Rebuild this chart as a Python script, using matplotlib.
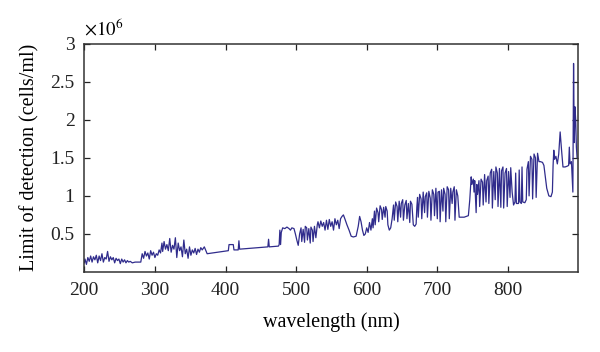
import matplotlib.pyplot as plt
from matplotlib.ticker import FormatStrFormatter

# wavelength (nm) and limit of detection (x10^6 cells/ml)
wavelength = [
    200, 201, 203, 205, 207, 209, 211, 213, 215, 217, 219, 221, 223, 225, 227, 229,
    231, 233, 235, 237, 239, 241, 243, 245, 247, 249, 251, 253, 255, 257, 259, 261,
    263, 265, 268, 272, 280,
    282, 284, 286, 288, 290, 292, 294, 296, 298, 300, 302, 304, 306, 308, 310, 311,
    313, 315, 317, 319, 321, 323, 325, 327, 329, 331, 333, 335, 337, 339, 341, 343,
    345, 347, 349, 351, 353, 355, 357, 359, 361, 363, 365, 367, 370, 374,
    404, 405, 411, 412, 418, 419, 420, 460, 461, 462, 475,
    476, 477, 478, 479, 481, 484, 487, 490, 492, 494, 497, 499, 501, 503,
    505, 507, 508, 510, 512, 513, 515, 516, 518, 520, 521, 523, 524, 526, 528, 530,
    531, 533, 535, 537, 539, 541, 543, 545, 547, 549, 551, 553, 555, 557, 559, 561,
    563, 565, 567, 569, 572, 575, 578, 581, 585, 588, 590, 592, 594, 596, 598, 600,
    602, 604, 606, 608,
    609, 611, 612, 614, 616, 617, 619, 621, 622, 624, 626, 627, 629, 630, 632, 634, 636,
    638, 639, 641, 643, 644, 646, 648, 649, 651, 652, 654, 656, 657, 659, 661, 662, 664,
    666, 668, 670, 671,
    672, 673, 675, 677, 678, 680, 682, 683, 685, 686, 688, 690, 691, 693, 695, 696,
    698, 700, 701, 703, 704, 706, 708, 709, 711, 712, 714, 716, 717, 719, 721, 722,
    724, 725, 727, 729,
    731, 738, 744, 746, 748, 749, 751, 752, 753, 755, 756, 757, 759,
    760, 762, 764, 765, 767, 769, 770, 772, 773, 775, 777, 778, 780, 782, 783, 785,
    786, 788, 790, 791, 793, 794, 796, 798, 799, 801, 803, 804, 806,
    808, 810, 811, 812, 815, 816, 817, 819, 820, 821, 824, 826,
    827, 829, 830, 832, 834, 835, 837, 839, 840, 842, 844,
    846, 849, 851, 853, 855, 858, 861, 863, 864, 865, 866, 868, 870, 872, 874, 876,
    878, 881, 884, 886, 887, 888, 890, 892, 893, 894, 895, 896, 897, 898,
]
lod = [
    0.12, 0.17, 0.10, 0.19, 0.14, 0.21, 0.13, 0.20, 0.16, 0.22, 0.12, 0.21, 0.15, 0.24, 0.13, 0.19,
    0.17, 0.27, 0.14, 0.20, 0.16, 0.19, 0.12, 0.18, 0.15, 0.17, 0.11, 0.17, 0.13, 0.16, 0.12, 0.15,
    0.13, 0.14, 0.12, 0.13, 0.13,
    0.24, 0.18, 0.27, 0.21, 0.25, 0.17, 0.28, 0.22, 0.26, 0.19, 0.24, 0.22, 0.29, 0.25, 0.38, 0.27,
    0.40, 0.30, 0.36, 0.28, 0.44, 0.26, 0.35, 0.30, 0.45, 0.19, 0.38, 0.28, 0.33, 0.20, 0.42, 0.24,
    0.30, 0.18, 0.33, 0.22, 0.29, 0.25, 0.31, 0.23, 0.30, 0.26, 0.32, 0.29, 0.33, 0.24,
    0.28, 0.36, 0.36, 0.29, 0.29, 0.41, 0.30, 0.33, 0.43, 0.33, 0.34,
    0.36, 0.55, 0.36, 0.52, 0.58, 0.57, 0.59, 0.57, 0.55, 0.58, 0.57, 0.50, 0.42, 0.35,
    0.50, 0.58, 0.40, 0.56, 0.39, 0.60, 0.58, 0.42, 0.57, 0.38, 0.59, 0.55, 0.40, 0.60, 0.45, 0.62,
    0.66, 0.58, 0.67, 0.60, 0.65, 0.55, 0.68, 0.56, 0.69, 0.60, 0.66, 0.55, 0.70, 0.62, 0.68, 0.57,
    0.70, 0.73, 0.75, 0.70, 0.62, 0.55, 0.47, 0.46, 0.47, 0.60, 0.73, 0.66, 0.55, 0.48, 0.50, 0.58,
    0.52, 0.65, 0.55, 0.70,
    0.58, 0.80, 0.62, 0.84, 0.78, 0.66, 0.87, 0.82, 0.69, 0.85, 0.72, 0.86, 0.80, 0.62, 0.55, 0.58, 0.70,
    0.88, 0.68, 0.92, 0.86, 0.66, 0.93, 0.72, 0.90, 0.95, 0.68, 0.88, 0.94, 0.70, 0.90, 0.65, 0.93, 0.89,
    0.62, 0.60, 0.63, 0.85,
    0.98, 0.72, 1.02, 0.96, 0.70, 1.05, 0.78, 0.99, 1.04, 0.72, 1.06, 0.97, 0.68, 1.08, 1.02, 0.74,
    1.10, 0.70, 1.05, 1.06, 0.66, 1.08, 0.80, 1.10, 1.02, 0.66, 1.12, 1.08, 0.70, 1.10, 0.90, 1.05,
    1.12, 0.68, 1.08, 1.00,
    0.72, 0.72, 0.74, 0.95, 1.25, 1.15, 1.22, 1.05, 1.20, 0.78, 1.15, 1.02, 1.20,
    0.86, 1.22, 1.18, 0.88, 1.28, 0.92, 1.20, 1.26, 0.90, 1.30, 1.35, 0.84, 1.32, 0.95, 1.38, 1.30,
    0.86, 1.36, 0.85, 1.33, 1.38, 0.84, 1.30, 1.36, 0.86, 1.32, 0.98, 1.37, 1.05,
    0.88, 0.92, 1.30, 0.90, 0.90, 1.34, 0.92, 0.90, 1.38, 0.92, 0.91, 0.95,
    1.35, 1.45, 1.00, 1.52, 1.48, 0.96, 1.55, 1.50, 0.98, 1.56, 1.45,
    1.45, 1.44, 1.40, 1.25, 1.10, 1.00, 0.99, 1.05, 1.40, 1.60, 1.48, 1.52, 1.42, 1.55, 1.84, 1.60,
    1.38, 1.38, 1.39, 1.40, 1.64, 1.42, 1.45, 1.05, 2.74, 1.70, 2.17, 2.00, 1.64, 1.50,
]

plt.rcParams['font.family'] = 'Liberation Serif'
plt.rcParams['mathtext.fontset'] = 'stix'

fig = plt.figure(figsize=(6, 3.52), dpi=100)
ax = fig.add_axes([0.1405, 0.2273, 0.8225, 0.6487])
ax.plot(wavelength, lod, color='#302c8c', linewidth=0.9)

ax.set_xlim(200, 899)
ax.set_ylim(0, 3)
ax.set_xticks([200, 300, 400, 500, 600, 700, 800])
ax.set_yticks([0.5, 1, 1.5, 2, 2.5, 3])
ax.yaxis.set_major_formatter(FormatStrFormatter('%g'))
ax.tick_params(direction='in', top=True, right=True, length=4, width=0.9,
               labelsize=14, colors='#222222', pad=7)
for s in ax.spines.values():
    s.set_linewidth(1.1)
    s.set_color('#333333')

ax.set_xlabel('wavelength (nm)', fontsize=14.5, labelpad=10)
ax.set_ylabel('Limit of detection (cells/ml)', fontsize=14.5, labelpad=8)
ax.text(0.0, 1.02, r'$\times10^{6}$', transform=ax.transAxes, fontsize=13.5, va='bottom')

fig.savefig('out.png', dpi=100)
